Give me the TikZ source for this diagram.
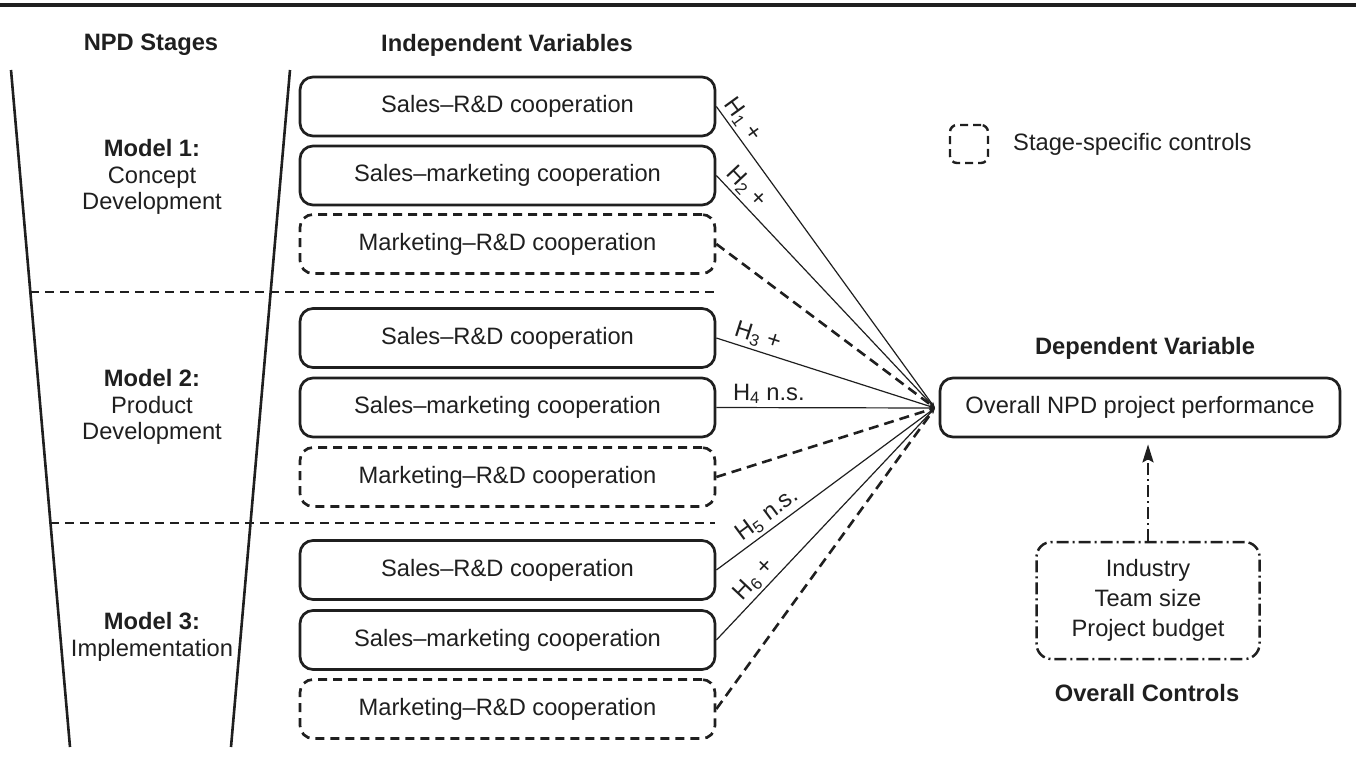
\documentclass[tikz,border=0pt]{standalone}
\usepackage{fontspec}
\setmainfont{Liberation Sans}
\usetikzlibrary{arrows.meta,calc}
\begin{document}
\begin{tikzpicture}[x=1pt,y=-1pt,
  every node/.style={font=\fontsize{23.7}{26.5}\selectfont, text=black!88},
  ivbox/.style={draw=black!88, line width=2.7pt, rounded corners=13pt, minimum width=415pt, minimum height=59pt, inner sep=0pt},
  ctlbox/.style={ivbox, dash pattern=on 9pt off 6pt},
  hd/.style={font=\fontsize{23.7}{26.5}\selectfont\bfseries},
  link/.style={draw=black!88, line width=1.2pt, -{Stealth[length=6pt,width=4pt]}},
  dlink/.style={draw=black!88, line width=2.6pt, dash pattern=on 10pt off 6pt, -{Stealth[length=6pt,width=4pt]}},
  hlab/.style={sloped, above, inner sep=3pt},
  sepline/.style={draw=black!88, line width=2.4pt, dash pattern=on 9pt off 6pt},
  stage/.style={draw=black!88, line width=2.6pt},
]
\useasboundingbox (0,0) rectangle (1356,763);
% top rule
\draw[line width=3.5pt, black!88] (0,5) -- (1356,5);

% headers
\node[hd] (hstage) at (151,45) {NPD Stages};
\node[hd] (hiv) at (507,45) {Independent Variables};

% stage trapezoid
\draw[stage] (11,70) -- (70,747);
\draw[stage] (290,70) -- (231,747);
\draw[sepline] (30,292) -- (715,292);
\draw[sepline] (50,523) -- (715,523);

% stage labels
\node[align=center] (m1) at (152,177) {\textbf{Model 1:}\\Concept\\Development};
\node[align=center] (m2) at (152,407) {\textbf{Model 2:}\\Product\\Development};
\node[align=center] (m3) at (152,637) {\textbf{Model 3:}\\Implementation};

% independent variable boxes
\node[ivbox]  (b1) at (507.5,106.5) {Sales–R\&D cooperation};
\node[ivbox]  (b2) at (507.5,175.5) {Sales–marketing cooperation};
\node[ctlbox] (b3) at (507.5,244) {Marketing–R\&D cooperation};
\node[ivbox]  (b4) at (507.5,338) {Sales–R\&D cooperation};
\node[ivbox]  (b5) at (507.5,407.5) {Sales–marketing cooperation};
\node[ctlbox] (b6) at (507.5,477) {Marketing–R\&D cooperation};
\node[ivbox]  (b7) at (507.5,570) {Sales–R\&D cooperation};
\node[ivbox]  (b8) at (507.5,640) {Sales–marketing cooperation};
\node[ctlbox] (b9) at (507.5,709) {Marketing–R\&D cooperation};

% dependent variable
\node[hd] (hdv) at (1145,348) {Dependent Variable};
\node[ivbox, minimum width=400pt] (dep) at (1140,407.5) {Overall NPD project performance};
\coordinate (cv) at (935,408);

% connectors
\draw[link] (b1.east) -- node[hlab, pos=0.07] {H\textsubscript{1} +} (cv);
\draw[link] (b2.east) -- node[hlab, pos=0.09] {H\textsubscript{2} +} (cv);
\draw[dlink] (b3.east) -- (cv);
\draw[link] (b4.east) -- node[hlab, pos=0.17] {H\textsubscript{3} +} (cv);
\draw[link] (b5.east) -- node[hlab, pos=0.24] {H\textsubscript{4} n.s.} (cv);
\draw[dlink] (b6.east) -- (cv);
\draw[link] (b7.east) -- node[hlab, pos=0.27] {H\textsubscript{5} n.s.} (cv);
\draw[link] (b8.east) -- node[hlab, pos=0.22] {H\textsubscript{6} +} (cv);
\draw[dlink] (b9.east) -- (cv);

% legend
\node[draw=black!88, line width=2.4pt, dash pattern=on 8pt off 5pt, rounded corners=7pt, minimum width=38pt, minimum height=38pt, inner sep=0pt] (leg) at (969,144) {};
\node[anchor=west, inner sep=0pt] (legt) at (1013,144) {Stage-specific controls};

% overall controls
\node[draw=black!88, line width=2.5pt, dash pattern=on 12pt off 4pt on 2pt off 4pt, rounded corners=15pt, minimum width=223pt, minimum height=117pt, align=center, font=\fontsize{23.7}{30}\selectfont] (ctrl) at (1148,600.5) {Industry\\Team size\\Project budget};
\node[hd] (hoc) at (1147,693) {Overall Controls};
\draw[black!88, line width=2.5pt, dash pattern=on 12pt off 4pt on 2pt off 4pt, -{Stealth[length=18pt,width=11pt,inset=3pt]}] (ctrl.north) -- ($(ctrl.north |- dep.south)+(0,6)$);
\end{tikzpicture}
\end{document}
